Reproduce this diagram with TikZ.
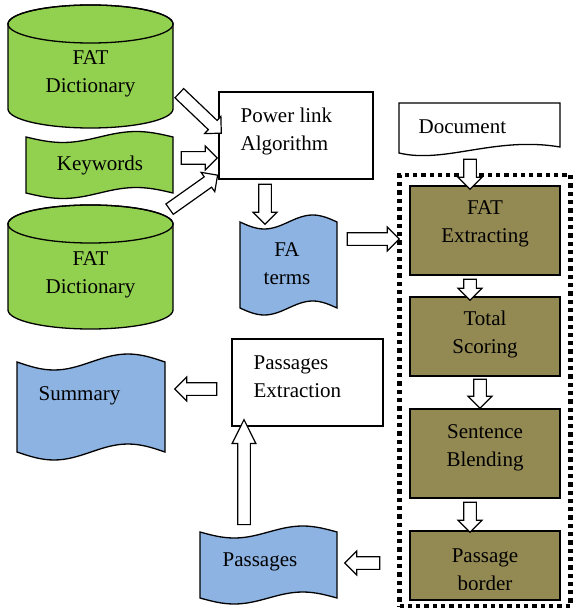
\documentclass[tikz,border=0pt]{standalone}
\usepackage{fontspec}
\setmainfont{Liberation Serif}
\usetikzlibrary{shapes.arrows,calc}
\definecolor{fgreen}{HTML}{92D050}
\definecolor{fblue}{HTML}{8DB3E2}
\definecolor{folive}{HTML}{938953}
\newcommand\tapeshape[6]{%
\draw[fill=#1] (#2,#3) sin ({#2+(#4-#2)/4},{#3+#6}) cos ({(#2+#4)/2},#3) sin ({#2+3*(#4-#2)/4},{#3-#6}) cos (#4,#3) -- (#4,#5) sin ({#4-(#4-#2)/4},{#5-#6}) cos ({(#2+#4)/2},#5) sin ({#2+(#4-#2)/4},{#5+#6}) cos (#2,#5) -- cycle;}
\newcommand\cylshape[4]{% x0 x1 ytopcenter ybottomcenter
\draw[fill=fgreen] (#1,#3) -- (#1,#4) arc (180:0:{(#2-#1)/2} and 19) -- (#2,#3) arc (0:-180:{(#2-#1)/2} and 19) -- cycle;
\draw ({(#1+#2)/2},#3) ellipse ({(#2-#1)/2} and 19);}
\newcommand\blockarrow[3][]{\path let \p1=($(#3)-(#2)$), \n1={veclen(\x1,\y1)} in (#2) -- (#3) node[midway, sloped, allow upside down, blk, minimum height=\n1, #1]{};}
\begin{document}
\begin{tikzpicture}[x=1pt,y=-1pt, line width=1.3pt,
  txt/.style={font=\fontsize{21}{28}\selectfont, align=center, inner sep=0pt},
  blk/.style={draw, fill=white, line width=1.2pt, single arrow, inner xsep=0pt, inner ysep=5.75pt, minimum width=0pt, single arrow head extend=5.5pt, single arrow head indent=0pt},
  plainbox/.style={draw, fill=white, line width=1.3pt, inner sep=0pt},
  procbox/.style={draw, fill=folive, line width=1.3pt, inner sep=0pt, minimum width=150pt}]
\useasboundingbox (0,0) rectangle (573,612);
% cylinders
\cylshape{8}{173}{24}{109}
\node[txt] (cyl1) at (90.5,74) {FAT\\Dictionary};
\cylshape{8}{173}{224}{310}
\node[txt] (cyl2) at (90.5,275) {FAT\\Dictionary};
% tapes
\tapeshape{fgreen}{26}{137}{173}{193}{5.5}
\node[txt] (kw) at (100,165) {Keywords};
\tapeshape{fblue}{240}{222}{337}{308}{7}
\node[txt] (fa) at (287,264) {FA\\terms};
\tapeshape{fblue}{17}{362}{165}{452}{8}
\node[txt, anchor=west] (sum) at (38,396) {Summary};
\tapeshape{fblue}{200}{532}{337}{598}{6}
\node[txt, anchor=west] (pas) at (222,562) {Passages};
% boxes
\node[plainbox, minimum width=154pt, minimum height=87pt] (pla) at (296,135.5) {};
\node[txt, align=left, anchor=west] (plat) at (240,131) {Power link\\Algorithm};
\node[plainbox, minimum width=151pt, minimum height=87pt] (pe) at (307.5,382.5) {};
\node[txt, align=left, anchor=west] (pet) at (253,376.5) {Passages\\Extraction};
% document
\draw[fill=white] (399,153) -- (399,103) -- (560,103) -- (560,147) .. controls (495,136) and (445,164) .. cycle;
\node[txt, anchor=west] (doc) at (418,127) {Document};
% dotted frame
\node[draw, line width=4.3pt, dash pattern=on 4.3pt off 4pt, minimum width=171pt, minimum height=431pt, inner sep=0pt] (frame) at (485,390.5) {};
% process boxes
\node[procbox, minimum height=89pt] (fe) at (485,230.5) {};
\node[txt] (fet) at (485,224) {FAT\\Extracting};
\node[procbox, minimum height=79pt] (ts) at (485,336.5) {};
\node[txt] (tst) at (485,334) {Total\\Scoring};
\node[procbox, minimum height=89pt] (sb) at (485,453.5) {};
\node[txt] (sbt) at (485,447.5) {Sentence\\Blending};
\node[procbox, minimum height=69pt] (pb) at (485,565.5) {};
\begin{scope}
\clip (410.7,531.7) rectangle (559.3,589);
\node[txt] (pbt) at (485,570) {Passage\\border};
\end{scope}
% arrow ends
\coordinate (a1s) at (177,91);  \coordinate (a1e) at (219,131);
\coordinate (a2s) at (178,158); \coordinate (a2e) at (214,158);
\coordinate (a3s) at (167,211); \coordinate (a3e) at (215,177);
\coordinate (a4s) at (265,181); \coordinate (a4e) at (265,221);
\coordinate (a5s) at (344,239); \coordinate (a5e) at (396,239);
\coordinate (a6s) at (470,156); \coordinate (a6e) at (470,186);
\coordinate (a7s) at (470,276); \coordinate (a7e) at (470,297);
\coordinate (a8s) at (480,376); \coordinate (a8e) at (480,405);
\coordinate (a9s) at (470,499); \coordinate (a9e) at (470,529);
\coordinate (a10s) at (383,563); \coordinate (a10e) at (348,563);
\coordinate (a11s) at (244,531); \coordinate (a11e) at (244,426);
\coordinate (a12s) at (220,389); \coordinate (a12e) at (178,389);
\blockarrow{a1s}{a1e}
\blockarrow{a2s}{a2e}
\blockarrow{a3s}{a3e}
\blockarrow{a4s}{a4e}
\blockarrow{a5s}{a5e}
\blockarrow{a6s}{a6e}
\blockarrow{a7s}{a7e}
\blockarrow{a8s}{a8e}
\blockarrow{a9s}{a9e}
\blockarrow{a10s}{a10e}
\blockarrow[single arrow tip angle=53]{a11s}{a11e}
\blockarrow{a12s}{a12e}
\end{tikzpicture}
\end{document}
